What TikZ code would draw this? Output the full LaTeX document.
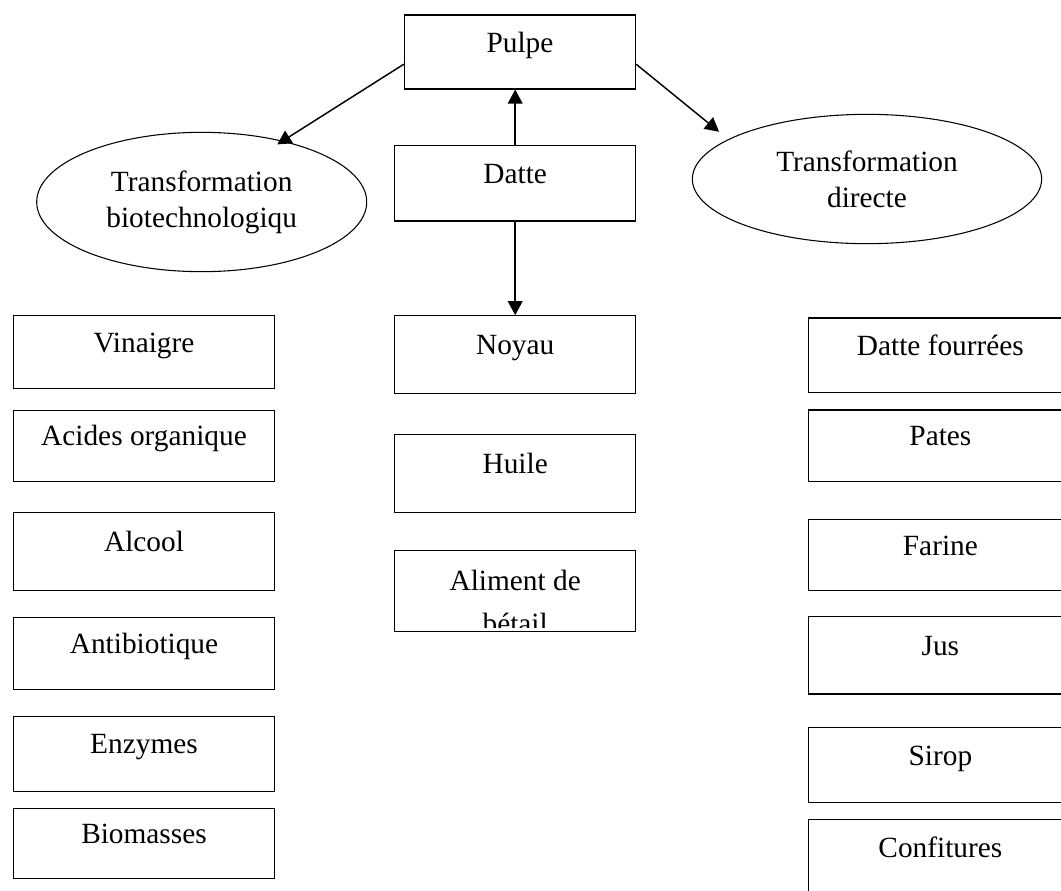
\documentclass[tikz,border=0pt]{standalone}
\usepackage{fontspec}
\setmainfont{Liberation Serif}
\usetikzlibrary{shapes.geometric,arrows.meta}

\begin{document}
\begin{tikzpicture}[x=0.75pt,y=0.75pt,yscale=-1,xscale=1,
  boite/.style={draw, line width=0.8pt, rectangle, inner sep=0pt, text height=8pt, text depth=8pt, font=\fontsize{22}{27}\selectfont},
  bulle/.style={draw, line width=0.8pt, ellipse, inner sep=0pt, align=center, font=\fontsize{22}{27}\selectfont},
  texte/.style={inner sep=0pt, font=\fontsize{22}{27}\selectfont},
  fleche/.style={line width=1.1pt, -{Triangle[length=10.5pt,width=11pt]}}]
%set diagram left start at 0, and has height of 890
\clip (0,0) rectangle (1061,890);

%Shape: Rectangle (centre)
\node[boite, minimum width=173.5pt, minimum height=55.5pt] (pulpe) at (520,52) {Pulpe};
\node[boite, minimum width=181pt, minimum height=56.5pt] (datte) at (515.2,183.3) {Datte};
\node[boite, minimum width=181pt, minimum height=58.2pt] (noyau) at (515.2,354.5) {Noyau};
\node[boite, minimum width=181pt, minimum height=58.7pt] (huile) at (515.2,473.2) {Huile};
\node[boite, minimum width=181pt, minimum height=60.75pt] (aliment) at (515.2,591.2) {};
\begin{scope}
\clip (395,551) rectangle (636,627.5);
\node[texte, anchor=base] (alimA) at (515.2,590) {Aliment de};
\node[texte, anchor=base] (alimB) at (515.2,633) {bétail};
\end{scope}

%Shape: Ellipse
\node[bulle, minimum width=247.5pt, minimum height=104.5pt] (bio) at (201.7,202) {Transformation\\biotechnologiqu};
\node[bulle, minimum width=262pt, minimum height=97pt] (direct) at (867,179) {Transformation\\directe};

%Shape: Rectangle (gauche)
\node[boite, minimum width=196pt, minimum height=54.5pt] (vinaigre) at (144,352) {Vinaigre};
\node[boite, minimum width=196pt, minimum height=53.8pt] (acides) at (144,445.9) {Acides organique};
\node[boite, minimum width=196pt, minimum height=58.8pt] (alcool) at (144,551.5) {Alcool};
\node[boite, minimum width=196pt, minimum height=54pt] (antibio) at (144,653.3) {Antibiotique};
\node[boite, minimum width=196pt, minimum height=55.7pt] (enzymes) at (144,753.9) {Enzymes};
\node[boite, minimum width=196pt, minimum height=52.5pt] (biomasses) at (144,843.3) {Biomasses};

%Shape: Rectangle (droite)
\node[boite, minimum width=198pt, minimum height=56pt] (fourrees) at (940.4,355.3) {Datte fourrées};
\node[boite, minimum width=198pt, minimum height=53.3pt] (pates) at (940.4,445.5) {Pates};
\node[boite, minimum width=198pt, minimum height=53.6pt] (farine) at (940.4,555) {Farine};
\node[boite, minimum width=198pt, minimum height=58pt] (jus) at (940.4,655.3) {Jus};
\node[boite, minimum width=198pt, minimum height=56.25pt] (sirop) at (940.4,765.2) {Sirop};
\node[boite, minimum width=198pt, minimum height=57pt] (confitures) at (940.4,857.3) {Confitures};

%Straight Lines
\draw[fleche] (datte.north) -- (datte.north |- pulpe.south);
\draw[fleche] (datte.south) -- (noyau.north);
\draw[fleche, shorten >=-5pt] (pulpe.186) -- (bio.37);
\draw[fleche, shorten >=8.8pt] (pulpe.-6) -- (direct.164);

\end{tikzpicture}
\end{document}
